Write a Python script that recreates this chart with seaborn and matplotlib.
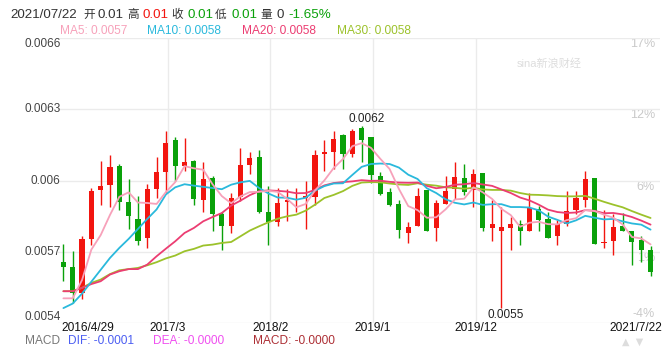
import numpy as np
import pandas as pd
import matplotlib
matplotlib.use("Agg")
import matplotlib.pyplot as plt
import matplotlib.transforms as mtrans
import seaborn as sns

# ---------------- data (monthly K-line) ----------------
dates = ["2016/4/29", "2017/3", "2018/2", "2019/1", "2019/12", "2021/7/22"]
date_idx = [0, 11, 22, 33, 44, 63]

open_ = [0.005658, 0.005638, 0.005528, 0.005756, 0.005959, 0.005980, 0.006063, 0.005912, 0.005840, 0.005757,
         0.005966, 0.006038, 0.006172, 0.006060, 0.006084, 0.005917, 0.006013, 0.005861, 0.005808, 0.005930,
         0.006067, 0.006101, 0.005870, 0.005828, 0.005909, 0.005917, 0.005927, 0.005930, 0.006112, 0.006119,
         0.006193, 0.006112, 0.006222, 0.006185, 0.006020, 0.005954, 0.005903, 0.005780, 0.005808, 0.005962,
         0.005800, 0.005900, 0.005965, 0.006011, 0.005959, 0.006034, 0.005799, 0.005787, 0.005799, 0.005819,
         0.005787, 0.005881, 0.005840, 0.005766, 0.005819, 0.005878, 0.005917, 0.006013, 0.005736, 0.005748,
         0.005811, 0.005788, 0.005752, 0.005710]
close = [0.005635, 0.005528, 0.005756, 0.005958, 0.005979, 0.006059, 0.005909, 0.005850, 0.005745, 0.005966,
         0.006038, 0.006160, 0.006060, 0.006080, 0.005921, 0.006008, 0.005858, 0.005808, 0.005928, 0.006067,
         0.006097, 0.005867, 0.005825, 0.005907, 0.005917, 0.005923, 0.005937, 0.006109, 0.006119, 0.006177,
         0.006112, 0.006210, 0.006170, 0.006022, 0.005945, 0.005899, 0.005791, 0.005807, 0.005937, 0.005787,
         0.005907, 0.005958, 0.006017, 0.005951, 0.006029, 0.005799, 0.005819, 0.005807, 0.005819, 0.005787,
         0.005885, 0.005836, 0.005757, 0.005816, 0.005874, 0.005928, 0.006008, 0.005735, 0.005742, 0.005807,
         0.005787, 0.005743, 0.005707, 0.005614]
high = [0.005735, 0.005706, 0.005769, 0.005969, 0.006081, 0.006109, 0.006069, 0.006008, 0.005937, 0.005987,
        0.006100, 0.006210, 0.006182, 0.006179, 0.006088, 0.006080, 0.006021, 0.005867, 0.005948, 0.006137,
        0.006119, 0.006130, 0.005979, 0.005969, 0.005965, 0.005969, 0.006000, 0.006130, 0.006170, 0.006210,
        0.006196, 0.006217, 0.006229, 0.006185, 0.006038, 0.005968, 0.005920, 0.005828, 0.005969, 0.005962,
        0.005920, 0.006018, 0.006080, 0.006069, 0.006050, 0.006034, 0.005917, 0.005888, 0.005849, 0.005836,
        0.005948, 0.005895, 0.005867, 0.005836, 0.005958, 0.005958, 0.006039, 0.006013, 0.005878, 0.005858,
        0.005864, 0.005788, 0.005769, 0.005727]
low = [0.005577, 0.005484, 0.005504, 0.005728, 0.005898, 0.005888, 0.005878, 0.005798, 0.005728, 0.005718,
       0.005927, 0.005948, 0.005997, 0.006039, 0.005898, 0.005868, 0.005787, 0.005707, 0.005778, 0.005916,
       0.006029, 0.005864, 0.005728, 0.005808, 0.005829, 0.005868, 0.005798, 0.005899, 0.006039, 0.006049,
       0.006050, 0.006100, 0.006079, 0.005990, 0.005938, 0.005895, 0.005759, 0.005736, 0.005808, 0.005787,
       0.005748, 0.005900, 0.005921, 0.005938, 0.005888, 0.005787, 0.005748, 0.005464, 0.005707, 0.005728,
       0.005787, 0.005787, 0.005757, 0.005728, 0.005808, 0.005858, 0.005888, 0.005735, 0.005717, 0.005686,
       0.005787, 0.005647, 0.005657, 0.005598]

ma5 = [0.005505, 0.005505, 0.005582, 0.005710, 0.005771, 0.005856, 0.005932, 0.005951, 0.005908, 0.005906,
       0.005902, 0.005952, 0.005994, 0.006061, 0.006052, 0.006046, 0.005985, 0.005935, 0.005905, 0.005934,
       0.005952, 0.005953, 0.005957, 0.005953, 0.005923, 0.005888, 0.005902, 0.005959, 0.006001, 0.006053,
       0.006091, 0.006145, 0.006158, 0.006138, 0.006092, 0.006049, 0.005965, 0.005893, 0.005876, 0.005844,
       0.005846, 0.005879, 0.005921, 0.005924, 0.005972, 0.005951, 0.005923, 0.005881, 0.005855, 0.005806,
       0.005823, 0.005827, 0.005817, 0.005816, 0.005834, 0.005842, 0.005877, 0.005872, 0.005857, 0.005844,
       0.005816, 0.005763, 0.005757, 0.005732]
ma10 = [0.005464, 0.005483, 0.005525, 0.005575, 0.005625, 0.005675, 0.005717, 0.005755, 0.005797, 0.005839,
        0.005879, 0.005942, 0.005972, 0.005985, 0.005979, 0.005974, 0.005969, 0.005964, 0.005983, 0.005993,
        0.005999, 0.005969, 0.005946, 0.005929, 0.005928, 0.005920, 0.005928, 0.005958, 0.005977, 0.005988,
        0.005989, 0.006024, 0.006058, 0.006070, 0.006072, 0.006070, 0.006055, 0.006025, 0.006007, 0.005968,
        0.005948, 0.005922, 0.005907, 0.005900, 0.005908, 0.005898, 0.005901, 0.005901, 0.005889, 0.005889,
        0.005887, 0.005875, 0.005849, 0.005835, 0.005820, 0.005833, 0.005852, 0.005844, 0.005837, 0.005839,
        0.005829, 0.005820, 0.005815, 0.005794]
ma20 = [0.005535, 0.005535, 0.005549, 0.005565, 0.005577, 0.005605, 0.005619, 0.005628, 0.005628, 0.005647,
        0.005682, 0.005714, 0.005745, 0.005780, 0.005801, 0.005829, 0.005847, 0.005864, 0.005895, 0.005916,
        0.005939, 0.005956, 0.005959, 0.005957, 0.005954, 0.005947, 0.005948, 0.005961, 0.005980, 0.005990,
        0.005994, 0.005997, 0.006002, 0.005999, 0.006000, 0.005995, 0.005992, 0.005991, 0.005992, 0.005978,
        0.005968, 0.005973, 0.005983, 0.005985, 0.005990, 0.005984, 0.005978, 0.005963, 0.005948, 0.005929,
        0.005917, 0.005899, 0.005878, 0.005868, 0.005864, 0.005866, 0.005876, 0.005873, 0.005863, 0.005864,
        0.005858, 0.005847, 0.005832, 0.005815]
ma30 = [0.005535, 0.005535, 0.005549, 0.005570, 0.005584, 0.005607, 0.005623, 0.005628, 0.005633, 0.005644,
        0.005657, 0.005673, 0.005685, 0.005703, 0.005713, 0.005727, 0.005731, 0.005738, 0.005742, 0.005766,
        0.005790, 0.005808, 0.005825, 0.005840, 0.005850, 0.005857, 0.005874, 0.005899, 0.005927, 0.005940,
        0.005956, 0.005978, 0.005992, 0.005994, 0.005993, 0.005988, 0.005984, 0.005982, 0.005989, 0.005983,
        0.005979, 0.005972, 0.005970, 0.005966, 0.005970, 0.005963, 0.005961, 0.005961, 0.005958, 0.005948,
        0.005941, 0.005940, 0.005938, 0.005935, 0.005934, 0.005934, 0.005936, 0.005924, 0.005911, 0.005899,
        0.005888, 0.005872, 0.005857, 0.005843]

y_ticks = [0.0054, 0.0057, 0.0060, 0.0063, 0.0066]
y_tick_labels = ["0.0054", "0.0057", "0.006", "0.0063", "0.0066"]
pct_labels = ["-4%", "1%", "6%", "12%", "17%"]

# ---------------- style ----------------
W, H = 663, 348
sns.set_theme(style="white")
FAM = ["Liberation Sans", "Noto Sans CJK SC", "DejaVu Sans"]
plt.rcParams["font.family"] = FAM

RED = "#f2150f"
GREEN = "#0aa10a"
C_MA5 = "#f7a1ba"
C_MA10 = "#2ab9dc"
C_MA20 = "#ec3d72"
C_MA30 = "#9cc22b"
GRID = "#ebebeb"

fig = plt.figure(figsize=(W / 100, H / 100), dpi=100)
fig.patch.set_facecolor("white")
L, R, T, B = 58, 660, 38, 323.3
ax = fig.add_axes([L / W, 1 - B / H, (R - L) / W, (B - T) / H])
ax.set_facecolor("white")

n = len(close)
idx = np.arange(n)
step = 9.32
x0 = -(63.4 - L) / step
ax.set_xlim(x0, x0 + (R - L) / step)
ax.set_ylim(0.0054, 0.0066)

# grid
ax.set_yticks(y_ticks)
grid_x = [d + 0.22 for d in date_idx[1:5]]
ax.set_xticks(grid_x)
ax.grid(True, color=GRID, linewidth=1)
ax.tick_params(left=False, bottom=False, labelleft=False, labelbottom=False)
for s in ax.spines.values():
    s.set_visible(False)

# percent labels (behind candles)
rt = mtrans.blended_transform_factory(ax.transAxes, ax.transData)
for v, lab in zip(y_ticks, pct_labels):
    if v == y_ticks[0]:
        ax.annotate(lab, xy=((655 - L) / (R - L), v), xycoords=rt, xytext=(0, 3),
                    textcoords="offset pixels", ha="right", va="bottom",
                    color="#c9c9c9", fontsize=9, zorder=0.5, annotation_clip=False)
    else:
        ax.text((655 - L) / (R - L), v, lab, transform=rt, ha="right", va="top",
                color="#c9c9c9", fontsize=9, zorder=0.5, clip_on=False)

# candles
df = pd.DataFrame({"idx": idx, "open": open_, "close": close, "high": high, "low": low})
df["up"] = df["close"] >= df["open"]
df["color"] = np.where(df["up"], RED, GREEN)
min_h = 0.0000065
body_h = np.maximum((df["close"] - df["open"]).abs(), min_h)
body_b = np.minimum(df["open"], df["close"])
ax.vlines(df["idx"], df["low"], df["high"], colors=df["color"], linewidth=1.0, zorder=2)
ax.bar(df["idx"], body_h, bottom=body_b, width=0.55, color=df["color"], linewidth=0, zorder=3)

# moving averages via seaborn
ma_df = pd.DataFrame({"idx": np.tile(idx, 4),
                      "value": ma30 + ma20 + ma10 + ma5,
                      "ma": ["MA30"] * n + ["MA20"] * n + ["MA10"] * n + ["MA5"] * n})
sns.lineplot(data=ma_df, x="idx", y="value", hue="ma",
             palette={"MA5": C_MA5, "MA10": C_MA10, "MA20": C_MA20, "MA30": C_MA30},
             linewidth=1.3, legend=False, ax=ax, zorder=4, sort=False, estimator=None)
ax.set_xlabel("")
ax.set_ylabel("")
ax.set_xlim(x0, x0 + (R - L) / step)
ax.set_ylim(0.0054, 0.0066)

# max / min annotations
imax = int(np.argmax(high))
imin = int(np.argmin(low))
ax.annotate(f"{high[imax]:.4f}", xy=(imax, high[imax]), xytext=(5, 1), textcoords="offset pixels",
            ha="center", va="bottom", fontsize=8.5, color="#222222", zorder=6)
ax.annotate(f"{low[imin]:.4f}", xy=(imin, low[imin]), xytext=(4, -1), textcoords="offset pixels",
            ha="center", va="top", fontsize=8.5, color="#222222", zorder=6, annotation_clip=False)

# left y labels
lt = mtrans.blended_transform_factory(fig.transFigure, ax.transData)
for v, lab in zip(y_ticks, y_tick_labels):
    va = "center"
    if v == y_ticks[0]:
        va = "bottom"
    elif v == y_ticks[-1]:
        va = "top"
    ax.text(60.5 / W, v, lab, transform=lt, ha="right", va=va, color="#444444",
            fontsize=8.5, clip_on=False)

# x labels
bt = mtrans.blended_transform_factory(ax.transData, fig.transFigure)
XL_Y = 328
for k, (d, lab) in enumerate(zip(date_idx, dates)):
    if k == 0:
        fig.text(61 / W, 1 - XL_Y / H, lab, ha="left", va="center", fontsize=8.6, color="#111111")
    elif k == len(dates) - 1:
        fig.text(662 / W, 1 - XL_Y / H, lab, ha="right", va="center", fontsize=8.6, color="#111111")
    else:
        ax.text(d + 0.22, 1 - XL_Y / H, lab, transform=bt, ha="center", va="center",
                fontsize=8.6, color="#111111", clip_on=False)

def ftext(x, y, s, color, size, **kw):
    fig.text(x / W, 1 - y / H, s, color=color, fontsize=size, ha="left", va="center", **kw)

# header line 1
GRAY = "#333333"
hdr = [("2021/07/22", 10, GRAY, 9.6), ("开", 83, GRAY, 8.4), ("0.01", 97.5, GRAY, 9.6),
       ("高", 127, GRAY, 8.4), ("0.01", 142.5, RED, 9.6), ("收", 171, GRAY, 8.4),
       ("0.01", 187.5, GREEN, 9.6), ("低", 215, GRAY, 8.4), ("0.01", 231.5, GREEN, 9.6),
       ("量", 260, GRAY, 8.4), ("0", 276.5, GRAY, 9.6), ("-1.65%", 288, GREEN, 9.6)]
for s, x, c, sz in hdr:
    ftext(x, 15, s, c, sz)

# legend line
leg = [("MA5: 0.0057", 60, C_MA5), ("MA10: 0.0058", 147, C_MA10),
       ("MA20: 0.0058", 242, C_MA20), ("MA30: 0.0058", 337, C_MA30)]
for s, x, c in leg:
    ftext(x, 31, s, c, 8.6)

# MACD line
macd = [("MACD", 25, "#777777"), ("DIF: -0.0001", 68, "#4c5ef2"),
        ("DEA: -0.0000", 153, "#f04ff0"), ("MACD: -0.0000", 253, "#ad2f35")]
for s, x, c in macd:
    ftext(x, 341, s, c, 8.6)

# watermark & small controls
ftext(517, 63, "sina新浪财经", "#dddddd", 8)
ftext(622, 342, "▲  ▼", "#dddddd", 7, family=["DejaVu Sans"])

fig.savefig("out.png", dpi=100, facecolor="white")
